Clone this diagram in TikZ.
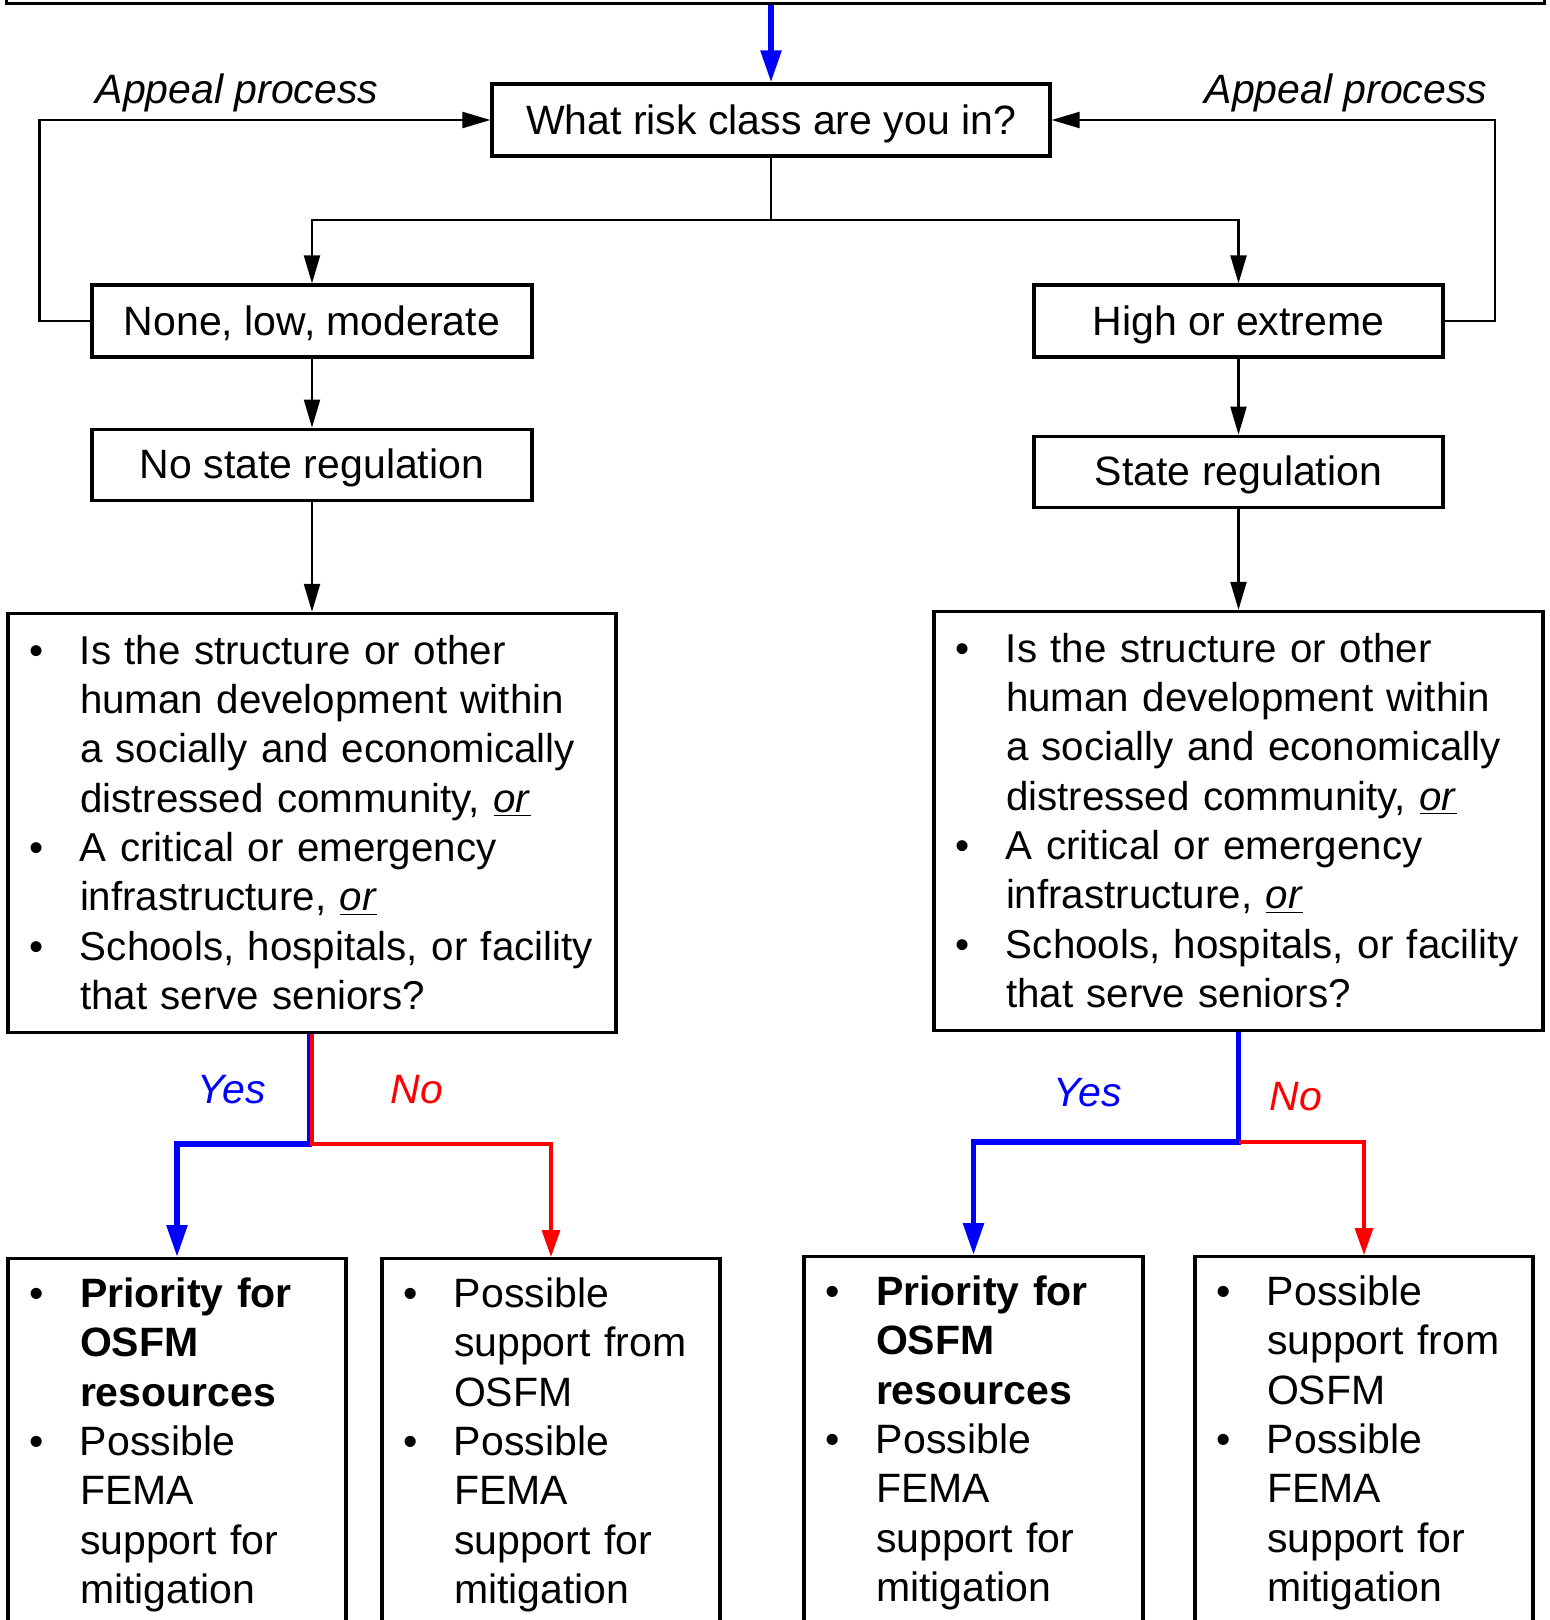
\documentclass[tikz,border=0pt]{standalone}
\usepackage{fontspec}
\setmainfont{Liberation Sans}
\usepackage{tikz}
\usetikzlibrary{positioning, arrows.meta}
\tikzset{
	>={Triangle[length=14pt, width=8pt]}, % punta negra de las flechas
	caja/.style={draw, line width=1.6pt, inner sep=0pt, font=\fuente, text height=17.2pt, text depth=3pt}, % cajas de texto
	lista/.style={draw, line width=1.6pt, inner sep=0pt, font=\fuente, align=left}, % cajas con vinetas
	linea/.style={line width=1.1pt}, % conectores negros
	azul/.style={draw=blue, line width=2.8pt, -{Triangle[length=16pt, width=10pt]}}, % rama Yes
	rojo/.style={draw=red, line width=1.7pt, -{Triangle[length=13.5pt, width=9pt]}}, % rama No
	etiqueta/.style={font=\fuente\itshape} % textos en cursiva
}
\newcommand{\fuente}{\fontsize{20.5}{24.65}\selectfont}
\newcommand{\chica}{\fontsize{20.15}{24.65}\selectfont}
\newcommand{\vin}{\textbullet}
\newcommand{\lista}[1]{\noindent\raisebox{0pt}[\dimexpr\height+4pt\relax][\depth]{%
	\begin{tabular}{@{\hspace{10.5pt}}p{25.5pt}@{}l@{}}#1\end{tabular}}}

\begin{document}
\begin{tikzpicture}[x=0.5pt, y=-0.5pt]
	\useasboundingbox (0,0) rectangle (1549,1620);
	\clip (0,0) rectangle (1549,1620);

	\node[caja, minimum width=769pt, minimum height=60pt, anchor=south west] (inicio) at (5,5) {};
	\node[caja, minimum width=279pt, minimum height=36pt] (clase) at (771,120) {What risk class are you in?};
	\node[caja, minimum width=220pt, minimum height=36pt] (bajo) at (312,321) {None, low, moderate};
	\node[caja, minimum width=204.5pt, minimum height=36pt] (alto) at (1238.5,321) {High or extreme};
	\node[caja, minimum width=220pt, minimum height=35.5pt, below=34.5pt of bajo] (sinreg) {No state regulation};
	\node[caja, minimum width=204.5pt, minimum height=35.5pt, below=38pt of alto] (reg) {State regulation};

	\node[lista, font=\chica, text width=304pt, minimum height=209.5pt, below=55pt of sinreg] (izq) {\lista{
		\vin & Is the structure or other\\
		& human development within\\
		& a socially and economically\\
		& distressed community, \underline{\textit{or}}\\
		\vin & A critical or emergency\\
		& infrastructure, \underline{\textit{or}}\\
		\vin & Schools, hospitals, or facility\\
		& that serve seniors?}};
	\node[lista, font=\chica, text width=304.5pt, minimum height=209.5pt, below=50.5pt of reg] (der) {\lista{
		\vin & Is the structure or other\\
		& human development within\\
		& a socially and economically\\
		& distressed community, \underline{\textit{or}}\\
		\vin & A critical or emergency\\
		& infrastructure, \underline{\textit{or}}\\
		\vin & Schools, hospitals, or facility\\
		& that serve seniors?}};

	\node[lista, text width=169pt, minimum height=183pt, anchor=north] (izqsi) at (177,1257) {\lista{
		\vin & \textbf{Priority for}\\ & \textbf{OSFM}\\ & \textbf{resources}\\
		\vin & Possible\\ & FEMA\\ & support for\\ & mitigation}};
	\node[lista, text width=169pt, minimum height=183pt, anchor=north] (izqno) at (551,1257) {\lista{
		\vin & Possible\\ & support from\\ & OSFM\\
		\vin & Possible\\ & FEMA\\ & support for\\ & mitigation}};
	\node[lista, text width=169.5pt, minimum height=183pt, anchor=north] (dersi) at (973.5,1255) {\lista{
		\vin & \textbf{Priority for}\\ & \textbf{OSFM}\\ & \textbf{resources}\\
		\vin & Possible\\ & FEMA\\ & support for\\ & mitigation}};
	\node[lista, text width=169pt, minimum height=183pt, anchor=north] (derno) at (1364,1255) {\lista{
		\vin & Possible\\ & support from\\ & OSFM\\
		\vin & Possible\\ & FEMA\\ & support for\\ & mitigation}};

	\node[etiqueta] (apizq) at (237,93) {Appeal process};
	\node[etiqueta] (apder) at (1346,93) {Appeal process};
	\node[etiqueta, text=blue] (siizq) at (232,1090) {Yes};
	\node[etiqueta, text=red] (noizq) at (417,1090) {No};
	\node[etiqueta, text=blue] (sider) at (1088,1093) {Yes};
	\node[etiqueta, text=red] (noder) at (1296,1097) {No};

	\coordinate (rama) at (771,220);
	\coordinate (bifizq) at (312,1144);
	\coordinate (bifder) at (1238.5,1142);

	\draw[azul] (clase.north |- inicio.south) -- (clase.north);
	\draw[linea] (clase.south) -- (rama);
	\draw[linea, ->] (rama) -| (bajo.north);
	\draw[linea, ->] (rama) -| (alto.north);
	\draw[linea, ->] (bajo.south) -- (sinreg.north);
	\draw[linea, ->] (alto.south) -- (reg.north);
	\draw[linea, ->] (sinreg.south) -- (izq.north);
	\draw[linea, ->] (reg.south) -- (der.north);
	\draw[linea, ->] (bajo.west) -- ++(-51,0) |- (clase.west);
	\draw[linea, ->] (alto.east) -- ++(50,0) |- (clase.east);

	\draw[azul, -] ([xshift=-1pt]izq.south) -- ([xshift=-1pt]bifizq);
	\draw[azul] (bifizq) -| (izqsi.north);
	\draw[rojo] (izq.south) -- (bifizq) -| (izqno.north);
	\draw[azul] (der.south) -- (bifder) -| (dersi.north);
	\draw[rojo] (bifder) -| (derno.north);
\end{tikzpicture}
\end{document}
